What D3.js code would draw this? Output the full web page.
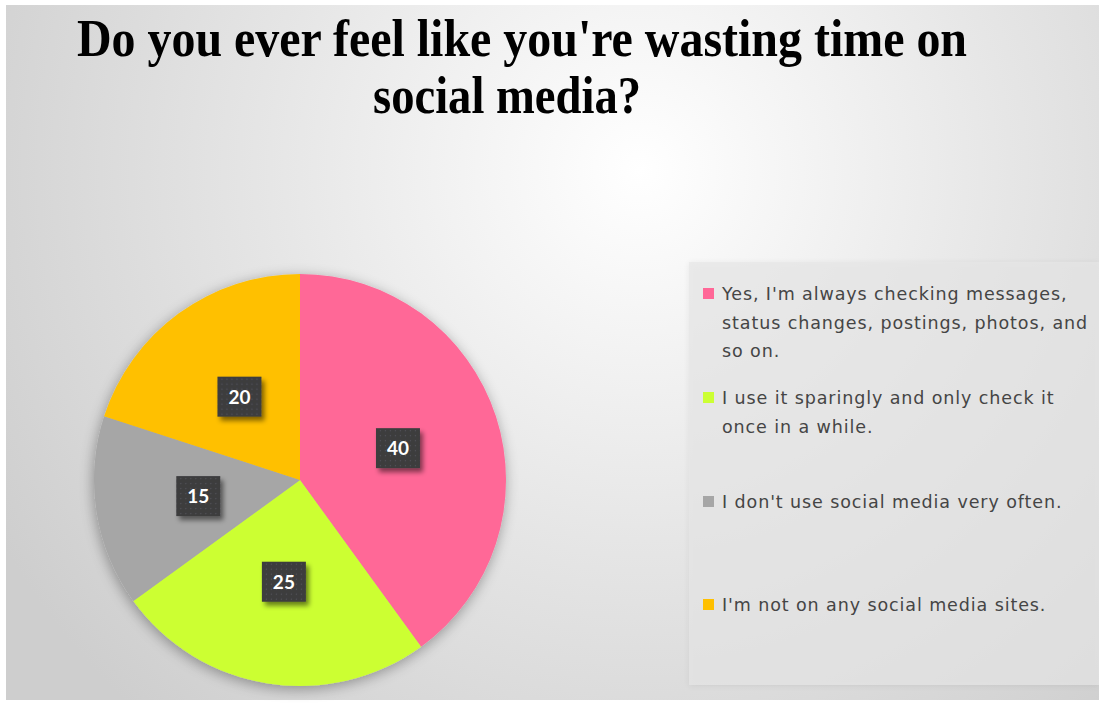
<!DOCTYPE html>
<html>
<head>
<meta charset="utf-8">
<script src="https://cdn.jsdelivr.net/npm/d3@7"></script>
<style>
  html, body { margin: 0; padding: 0; background: #ffffff; }
  svg { display: block; }
</style>
</head>
<body>
<svg id="chart" width="1099" height="703"></svg>
<script>
// Survey answers, in pie order (clockwise from 12 o'clock)
const categories = [
  "Yes, I'm always checking messages, status changes, postings, photos, and so on.",
  "I use it sparingly and only check it once in a while.",
  "I don't use social media very often.",
  "I'm not on any social media sites."
];
const values = [40, 25, 15, 20];
const colors = ["#ff6797", "#ccff33", "#a6a6a6", "#ffc000"];
// Legend text, wrapped as it is laid out in the legend box
const legendLines = [
  ["Yes, I'm always checking messages,", "status changes, postings, photos, and", "so on."],
  ["I use it sparingly and only check it", "once in a while."],
  ["I don't use social media very often."],
  ["I'm not on any social media sites."]
];
const titleLines = ["Do you ever feel like you're wasting time on", "social media?"];

const svg = d3.select("#chart");
const defs = svg.append("defs");

// Chart-area background: soft radial grey
const bg = defs.append("radialGradient").attr("id", "bgGrad")
  .attr("gradientUnits", "userSpaceOnUse")
  .attr("cx", 640).attr("cy", 170).attr("r", 740);
bg.append("stop").attr("offset", "0%").attr("stop-color", "#ffffff");
bg.append("stop").attr("offset", "50%").attr("stop-color", "#e6e6e6");
bg.append("stop").attr("offset", "100%").attr("stop-color", "#cecece");

// Soft shadow for the pie
const pieShadow = defs.append("filter").attr("id", "pieShadow")
  .attr("x", "-20%").attr("y", "-20%").attr("width", "140%").attr("height", "140%");
pieShadow.append("feGaussianBlur").attr("in", "SourceAlpha").attr("stdDeviation", 7).attr("result", "b");
pieShadow.append("feOffset").attr("in", "b").attr("dx", -1).attr("dy", 3).attr("result", "o");
pieShadow.append("feComponentTransfer").attr("in", "o").attr("result", "s")
  .append("feFuncA").attr("type", "linear").attr("slope", 0.35);
const pm = pieShadow.append("feMerge");
pm.append("feMergeNode").attr("in", "s");
pm.append("feMergeNode").attr("in", "SourceGraphic");

// Shadow for data-label boxes
const lblShadow = defs.append("filter").attr("id", "lblShadow")
  .attr("x", "-30%").attr("y", "-30%").attr("width", "170%").attr("height", "170%");
lblShadow.append("feGaussianBlur").attr("in", "SourceAlpha").attr("stdDeviation", 2.5).attr("result", "b");
lblShadow.append("feOffset").attr("in", "b").attr("dx", 3).attr("dy", 4).attr("result", "o");
lblShadow.append("feComponentTransfer").attr("in", "o").attr("result", "s")
  .append("feFuncA").attr("type", "linear").attr("slope", 0.5);
const lm = lblShadow.append("feMerge");
lm.append("feMergeNode").attr("in", "s");
lm.append("feMergeNode").attr("in", "SourceGraphic");

// Dotted texture for label boxes
const dots = defs.append("pattern").attr("id", "dots")
  .attr("patternUnits", "userSpaceOnUse").attr("width", 5).attr("height", 5);
dots.append("rect").attr("width", 5).attr("height", 5).attr("fill", "#3c3c3e");
dots.append("circle").attr("cx", 2.5).attr("cy", 2.5).attr("r", 0.7).attr("fill", "#545458");

// Legend panel shadow
const legShadow = defs.append("filter").attr("id", "legShadow")
  .attr("x", "-10%").attr("y", "-10%").attr("width", "120%").attr("height", "120%");
legShadow.append("feGaussianBlur").attr("in", "SourceAlpha").attr("stdDeviation", 3).attr("result", "b");
legShadow.append("feOffset").attr("in", "b").attr("dx", 0).attr("dy", 1).attr("result", "o");
legShadow.append("feComponentTransfer").attr("in", "o").attr("result", "s")
  .append("feFuncA").attr("type", "linear").attr("slope", 0.1);
const gm = legShadow.append("feMerge");
gm.append("feMergeNode").attr("in", "s");
gm.append("feMergeNode").attr("in", "SourceGraphic");

// Chart area
svg.append("rect").attr("x", 6).attr("y", 5).attr("width", 1093).attr("height", 695)
  .attr("fill", "url(#bgGrad)");

// Title (bold serif, set narrow)
const title = svg.append("g").attr("font-family", "'Liberation Serif', 'Times New Roman', serif")
  .attr("font-weight", "bold").attr("font-size", 52).attr("fill", "#000");
title.append("text").attr("x", 77).attr("y", 56)
  .attr("textLength", 890).attr("lengthAdjust", "spacingAndGlyphs").text(titleLines[0]);
title.append("text").attr("x", 373).attr("y", 113)
  .attr("textLength", 268).attr("lengthAdjust", "spacingAndGlyphs").text(titleLines[1]);

// Legend panel
svg.append("rect").attr("x", 689).attr("y", 262).attr("width", 410).attr("height", 423)
  .attr("fill", "#e6e6e6").attr("fill-opacity", 0.7).attr("filter", "url(#legShadow)");

// Pie
const cx = 300, cy = 480, R = 206;
const data = categories.map((c, i) => ({ category: c, value: values[i], color: colors[i], lines: legendLines[i] }));
const pie = d3.pie().value(d => d.value).sort(null);
const arcs = pie(data);
const arc = d3.arc().innerRadius(0).outerRadius(R);

const pieG = svg.append("g").attr("transform", `translate(${cx},${cy})`);
pieG.append("g").attr("filter", "url(#pieShadow)")
  .selectAll("path").data(arcs).join("path")
  .attr("d", arc).attr("fill", d => d.data.color);

// Data labels at the slice centroids
const bw = 44, bh = 40;
const lbl = pieG.selectAll("g.lbl").data(arcs).join("g").attr("class", "lbl")
  .attr("transform", d => { const [x, y] = arc.centroid(d); return `translate(${x},${y})`; });
lbl.append("rect").attr("x", -bw / 2).attr("y", -bh / 2).attr("width", bw).attr("height", bh)
  .attr("fill", "url(#dots)").attr("filter", "url(#lblShadow)");
lbl.append("text").attr("text-anchor", "middle").attr("dy", "0.36em")
  .attr("font-family", "Lato, 'Open Sans', sans-serif").attr("font-weight", "bold")
  .attr("font-size", 19).attr("fill", "#ffffff").text(d => d.data.value);

// Legend entries
const legendY = [294, 398, 502, 605];
const lineGap = 28.5;
const leg = svg.append("g");
const items = leg.selectAll("g").data(data).join("g")
  .attr("transform", (d, i) => `translate(703,${legendY[i]})`);
items.append("rect").attr("x", 0).attr("y", -6).attr("width", 11).attr("height", 11)
  .attr("fill", d => d.color);
items.append("text").attr("font-family", "'DejaVu Sans', sans-serif").attr("font-size", 17.5)
  .attr("letter-spacing", 0.9).attr("fill", "#454545")
  .selectAll("tspan").data(d => d.lines).join("tspan")
  .attr("x", 19).attr("y", (d, j) => j * lineGap).attr("dy", "0.36em").text(d => d);
</script>
</body>
</html>
